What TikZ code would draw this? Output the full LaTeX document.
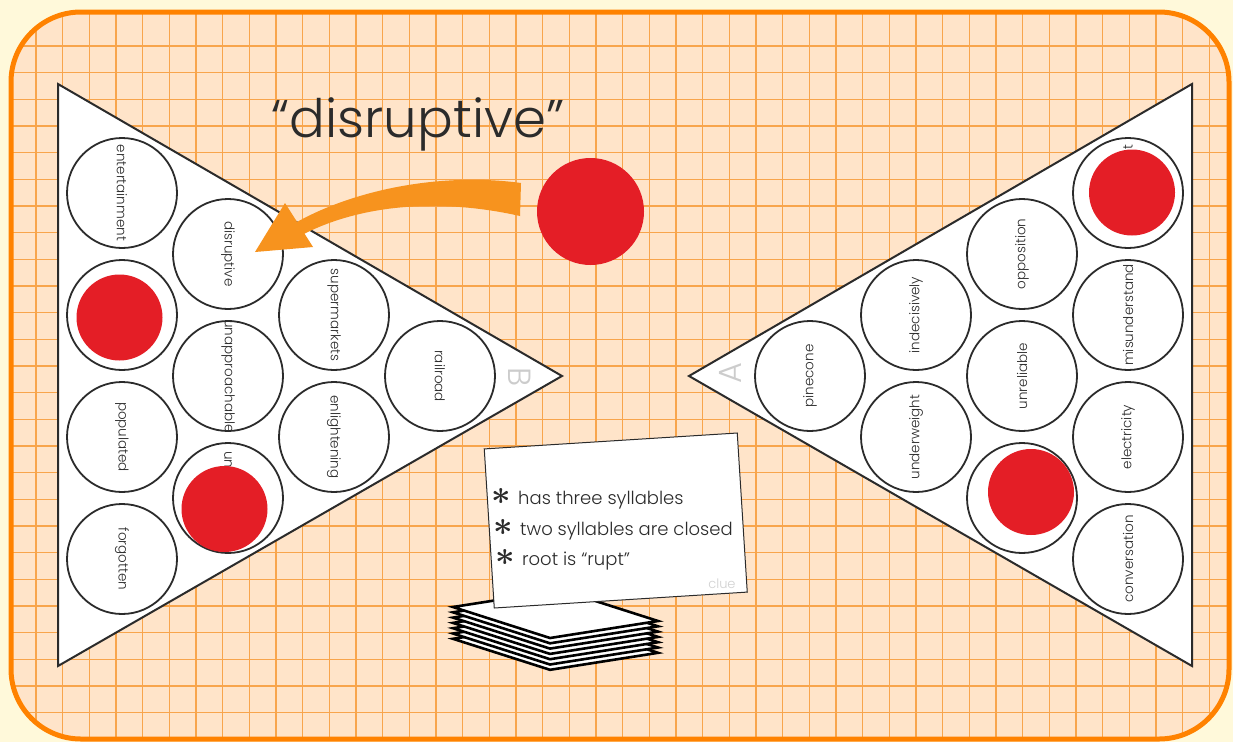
\RequirePackage{fix-cm}
\documentclass[tikz,border=0pt]{standalone}
\usepackage{fontspec}
\IfFontExistsTF{Poppins Light}{\setmainfont{Poppins Light}}{\setmainfont{Poppins}}
\usetikzlibrary{positioning}
\definecolor{paper}{HTML}{FFF9DA}
\definecolor{peach}{HTML}{FFE4C9}
\definecolor{gridline}{HTML}{F8A54C}
\definecolor{frame}{HTML}{FF8200}
\definecolor{chipred}{HTML}{E41E26}
\definecolor{arroworange}{HTML}{F7931E}
\definecolor{ink}{HTML}{2B2B2B}
\tikzset{
  slot/.style={circle,draw=ink,line width=1.8pt,fill=white,minimum size=110pt,inner sep=0pt},
  chip/.style={circle,fill=chipred,minimum size=86pt,inner sep=0pt},
  wordL/.style={rotate=-90,inner sep=0pt,font=\fontsize{13.5}{13.5}\selectfont,text=ink},
  wordR/.style={rotate=90,inner sep=0pt,font=\fontsize{13.5}{13.5}\selectfont,text=ink},
  board/.style={fill=white,draw=ink,line width=2pt,line join=miter},
  sheet/.style={fill=white,draw=black,line width=2.6pt,line join=miter},
  card/.style={draw=ink,fill=white,line width=1pt,minimum width=253.5pt,minimum height=159.4pt},
  hint/.style={anchor=base west,inner sep=0pt,font=\fontsize{18}{18}\selectfont,text=ink},
  sideletter/.style={font=\fontsize{32}{32}\selectfont,text=black!20},
}
\newcommand{\clueitem}{{\fontsize{34}{34}\selectfont\boldmath$\ast$}\hspace{7pt}}
\begin{document}
\begin{tikzpicture}[x=1pt,y=-1pt]
\useasboundingbox (0,0) rectangle (1233,742);
\fill[paper] (0,0) rectangle (1233,742);
\fill[peach,rounded corners=70pt] (11,12) rectangle (1229,739);
\begin{scope}
\clip[rounded corners=70pt] (11,12) rectangle (1229,739);
\foreach \gx in {36,62.667,...,1215} % edit here for the vertical grid lines
\draw[gridline,line width=1.2pt] (\gx,0) -- (\gx,742);
\foreach \gy in {46,72.667,...,730} % edit here for the horizontal grid lines
\draw[gridline,line width=1.2pt] (0,\gy) -- (1233,\gy);
\end{scope}
\draw[frame,line width=5pt,rounded corners=70pt] (11,12) rectangle (1229,739);
% the two boards
\draw[board] (58,84) -- (562,376) -- (58,666) -- cycle;
\draw[board] (1192,84) -- (689,376) -- (1192,666) -- cycle;
\node[sideletter,rotate=-90] (B) at (520,377) {B};
\node[sideletter,rotate=90] (A) at (730,373) {A};
\foreach \c/\r/\w in {1/1/entertainment,1/2/{},1/3/populated,1/4/forgotten,2/1/disruptive,2/2/unapproachable,2/3/{},3/1/supermarkets,3/2/enlightening,4/1/railroad} % edit here for board B
{\node[slot] (L\c\r) at ({122+106*(\c-1)},{193+61*(\c-1)+122*(\r-1)}) {};
\node[wordL] (wL\c\r) at (L\c\r) {\w};}
\foreach \c/\r/\w in {1/1/{},1/2/misunderstand,1/3/electricity,1/4/conversation,2/1/opposition,2/2/unreliable,2/3/{},3/1/indecisively,3/2/underweight,4/1/pinecone} % edit here for board A
{\node[slot] (R\c\r) at ({1128-106*(\c-1)},{193+61*(\c-1)+122*(\r-1)}) {};
\node[wordR] (wR\c\r) at (R\c\r) {\w};}
\node[wordL,anchor=west] (wL23) at (228,451) {un};
\node[wordR,anchor=east] (wR11) at (1128,144) {t};
% edit here for the red chips
\node[chip] (cL12) at (119.5,317.5) {};
\node[chip] (cL23) at (224.5,509) {};
\node[chip] (cR11) at (1132,192.5) {};
\node[chip] (cR23) at (1031,492) {};
\node[chip,minimum size=107pt] (token) at (590.5,211.5) {};
\node[anchor=base,inner sep=0pt,font=\fontsize{53}{53}\selectfont,text=ink] (title) at (418,137) {“disruptive”};
% arrow from the token to the slot
\fill[arroworange] (521,183) .. controls (440,172) and (350,190) .. (290,226) -- (300,236) .. controls (360,204) and (440,198) .. (520,216) -- cycle;
\fill[arroworange] (285,203) -- (255,252) -- (313,247) -- cycle;
% the pile of clue cards
\foreach \i in {6,5,...,0}
\draw[sheet,shift={(0,5.3*\i)}] (453,607) -- (550,638) -- (658,621) -- (561,590) -- cycle;
\node[card,rotate=3.6] (clue) at (615.75,520.5) {};
\begin{scope}[shift={(clue.center)},rotate=3.6]
\node[hint] (h1) at (-123,-24.2) {\clueitem has three syllables};
\node[hint] (h2) at (-123,6.8) {\clueitem two syllables are closed};
\node[hint] (h3) at (-123,37.8) {\clueitem root is “rupt”};
\node[inner sep=0pt,font=\fontsize{13}{13}\selectfont,text=black!18] (cluetag) at (102,70) {clue};
\end{scope}
\end{tikzpicture}
\end{document}
